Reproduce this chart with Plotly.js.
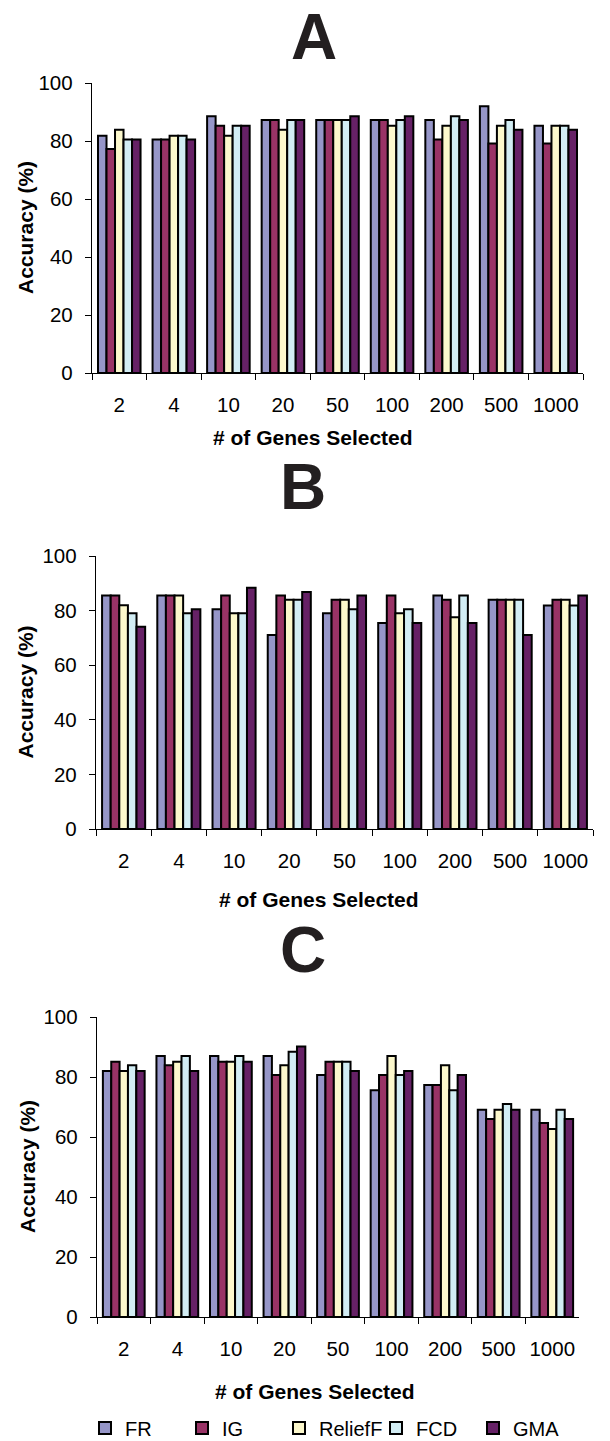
<!DOCTYPE html>
<html>
<head>
<meta charset="utf-8">
<script src="https://cdn.plot.ly/plotly-3.0.1.min.js"></script>
<style>
html,body{margin:0;padding:0;background:#fff;}
#chart{width:610px;height:1441px;}
</style>
</head>
<body>
<div id="chart"></div>
<script>
// Categories and series
const genes = ['2', '4', '10', '20', '50', '100', '200', '500', '1000'];
const methods = ['FR', 'IG', 'ReliefF', 'FCD', 'GMA'];
const panelLabels = ['A', 'B', 'C'];
const yTicks = [0, 20, 40, 60, 80, 100];

// Panel A accuracy (%)
const A_FR = [81.8, 80.5, 88.5, 87.2, 87.2, 87.2, 87.2, 92.0, 85.3];
const A_IG = [77.2, 80.5, 85.3, 87.2, 87.2, 87.2, 80.5, 79.1, 79.1];
const A_ReliefF = [83.9, 81.8, 81.8, 83.9, 87.2, 85.3, 85.3, 85.3, 85.3];
const A_FCD = [80.5, 81.8, 85.3, 87.2, 87.2, 87.2, 88.5, 87.2, 85.3];
const A_GMA = [80.5, 80.5, 85.3, 87.2, 88.5, 88.5, 87.2, 83.9, 83.9];

// Panel B accuracy (%)
const B_FR = [85.5, 85.5, 80.5, 71.1, 79.0, 75.5, 85.5, 84.0, 81.9];
const B_IG = [85.5, 85.5, 85.5, 85.5, 84.0, 85.5, 84.0, 84.0, 84.0];
const B_ReliefF = [82.0, 85.5, 79.0, 84.0, 84.0, 79.0, 77.6, 84.0, 84.0];
const B_FCD = [79.0, 79.0, 79.0, 84.0, 80.5, 80.5, 85.5, 84.0, 81.9];
const B_GMA = [74.1, 80.5, 88.4, 86.8, 85.5, 75.5, 75.5, 71.1, 85.5];

// Panel C accuracy (%)
const C_FR = [82.0, 87.0, 87.0, 87.0, 80.7, 75.6, 77.3, 69.1, 69.1];
const C_IG = [85.1, 83.9, 85.1, 80.7, 85.1, 80.7, 77.3, 66.0, 64.7];
const C_ReliefF = [82.0, 85.1, 85.1, 83.9, 85.1, 87.0, 83.9, 69.1, 62.7];
const C_FCD = [83.9, 87.0, 87.0, 88.4, 85.1, 80.7, 75.6, 71.0, 69.1];
const C_GMA = [82.0, 82.0, 85.1, 90.2, 82.0, 82.0, 80.7, 69.1, 66.0];

const seriesByPanel = [
  [A_FR, A_IG, A_ReliefF, A_FCD, A_GMA],
  [B_FR, B_IG, B_ReliefF, B_FCD, B_GMA],
  [C_FR, C_IG, C_ReliefF, C_FCD, C_GMA]
];

// Styles
const colors = ['#9696C8', '#993366', '#FCF8CC', '#D2EDF4', '#662166'];
const FONT = 'Liberation Sans, Arial, sans-serif';
const W = 610, H = 1441;
// plot boxes in px: [left, right, top, bottom]
const boxes = [
  [92, 583, 83, 373],
  [96, 593, 556, 829],
  [97, 579, 1017, 1317]
];
const letterTop = [0, 450, 913];
const letterX = [314, 303, 303];
const xTitleY = [437, 899, 1391];
const xTitleX = [313, 319, 315];
const yTitleX = [25, 25, 27];

const traces = [];
seriesByPanel.forEach((panel, p) => {
  panel.forEach((vals, m) => {
    traces.push({
      type: 'bar',
      name: methods[m],
      x: genes,
      y: vals,
      xaxis: p === 0 ? 'x' : 'x' + (p + 1),
      yaxis: p === 0 ? 'y' : 'y' + (p + 1),
      marker: {color: colors[m], line: {color: '#000', width: 2}},
      legendgroup: methods[m],
      showlegend: p === 2,
      hoverinfo: 'x+y+name'
    });
  });
});

const layout = {
  width: W, height: H,
  margin: {l: 0, r: 0, t: 0, b: 0, autoexpand: false},
  paper_bgcolor: '#fff', plot_bgcolor: '#fff',
  barmode: 'group', bargap: 0.22, bargroupgap: 0,
  font: {family: FONT, size: 20.5, color: '#000'},
  showlegend: true,
  legend: {
    orientation: 'h', x: 85 / W, xanchor: 'left', y: 1 - 1428 / H, yanchor: 'middle',
    font: {family: FONT, size: 20, color: '#000'}, traceorder: 'normal',
    entrywidth: 52, entrywidthmode: 'pixels'
  },
  annotations: []
};

boxes.forEach((b, p) => {
  const sx = p === 0 ? '' : String(p + 1);
  layout['xaxis' + sx] = {
    domain: [b[0] / W, b[1] / W],
    anchor: 'y' + sx,
    type: 'category',
    tickson: 'boundaries',
    tickangle: 0,
    ticks: 'outside', ticklen: 6, tickwidth: 1, tickcolor: '#000',
    showline: true, linecolor: '#000', linewidth: 1.2,
    showgrid: false, zeroline: false,
    ticklabelstandoff: 13,
    tickfont: {family: FONT, size: 20.5, color: '#000'},
    fixedrange: true
  };
  layout['yaxis' + sx] = {
    domain: [1 - b[3] / H, 1 - b[2] / H],
    anchor: 'x' + sx,
    range: [0, 100],
    tickvals: yTicks,
    ticks: 'outside', ticklen: 6, tickwidth: 1, tickcolor: '#000',
    showline: true, linecolor: '#000', linewidth: 1.2,
    showgrid: false, zeroline: false,
    ticklabelstandoff: 8,
    tickfont: {family: FONT, size: 20.5, color: '#000'},
    fixedrange: true
  };
  // panel letter
  layout.annotations.push({
    text: '<b>' + panelLabels[p] + '</b>', xref: 'paper', yref: 'paper',
    x: letterX[p] / W, y: 1 - letterTop[p] / H,
    xanchor: 'center', yanchor: 'top', showarrow: false, borderpad: 0,
    font: {family: FONT, size: 64, color: '#231F20'}
  });
  // x title
  layout.annotations.push({
    text: '<b># of Genes Selected</b>', xref: 'paper', yref: 'paper',
    x: xTitleX[p] / W, y: 1 - xTitleY[p] / H,
    xanchor: 'center', yanchor: 'middle', showarrow: false,
    font: {family: FONT, size: 21, color: '#000'}
  });
  // y title
  layout.annotations.push({
    text: '<b>Accuracy (%)</b>', xref: 'paper', yref: 'paper',
    x: yTitleX[p] / W, y: 1 - ((b[2] + b[3]) / 2) / H,
    xanchor: 'center', yanchor: 'middle', showarrow: false, textangle: -90,
    font: {family: FONT, size: 21, color: '#000'}
  });
});

Plotly.newPlot('chart', traces, layout, {displayModeBar: false, staticPlot: true});
</script>
</body>
</html>
